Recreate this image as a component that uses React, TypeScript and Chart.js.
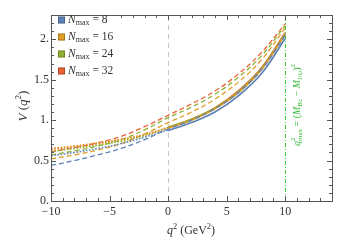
import React, { useEffect, useRef } from "react";
import { Chart, registerables } from "chart.js";

Chart.register(...registerables);

const FONT = '"Liberation Serif", "DejaVu Serif", serif';

const seriesNames = ["8", "16", "24", "32"];
const colors = ["#5e81b5", "#e19c24", "#8fb032", "#eb6235"];

// solid curves, q^2 from 0 to 10
const qSolid = [0, 2, 4, 6, 8, 10];
const solidBlue = [0.87, 0.97, 1.1, 1.3, 1.58, 2.01];
const solidOrange = [0.9, 1.0, 1.14, 1.34, 1.63, 2.06];
const solidGreen = [0.91, 1.01, 1.15, 1.35, 1.64, 2.07];
const solidRed = [0.91, 1.01, 1.15, 1.36, 1.65, 2.08];

// dashed curves, q^2 from -10 to 10
const qDashed = [-10, -8, -6, -4, -2, 0, 2, 4, 6, 8, 10];
const dashedBlue = [0.44, 0.5, 0.57, 0.65, 0.76, 0.89, 1.0, 1.14, 1.34, 1.63, 2.05];
const dashedOrange = [0.52, 0.57, 0.63, 0.71, 0.83, 0.97, 1.1, 1.26, 1.47, 1.75, 2.14];
const dashedGreen = [0.57, 0.62, 0.68, 0.76, 0.88, 1.03, 1.16, 1.32, 1.53, 1.8, 2.17];
const dashedRed = [0.61, 0.66, 0.72, 0.8, 0.92, 1.06, 1.2, 1.36, 1.57, 1.84, 2.19];

// dotted curves, q^2 from -10 to 0
const qDotted = [-10, -8, -6, -4, -2, 0];
const dottedBlue = [0.56, 0.6, 0.65, 0.71, 0.79, 0.88];
const dottedOrange = [0.65, 0.68, 0.72, 0.76, 0.82, 0.9];
const dottedGreen = [0.61, 0.65, 0.69, 0.74, 0.81, 0.91];
const dottedRed = [0.64, 0.67, 0.71, 0.76, 0.82, 0.91];

const xTickValues = [-10, -5, 0, 5, 10];
const xTickLabels = ["\u221210", "\u22125", "0", "5", "10"];
const yTickValues = [0, 0.5, 1, 1.5, 2];
const yTickLabels = ["0.", "0.5", "1.", "1.5", "2."];

const xMin = -10, xMax = 14, yMin = 0, yMax = 2.3;
const qMaxLine = 10;

type Part = { t: string; i?: boolean; pos?: "base" | "sub" | "sup"; stack?: boolean };

function layoutParts(ctx: CanvasRenderingContext2D, parts: Part[], size: number) {
  let x = 0;
  let prevStart = 0;
  const out: { p: Part; x: number; font: string }[] = [];
  for (const p of parts) {
    const fs = p.pos && p.pos !== "base" ? size * 0.7 : size;
    const font = (p.i ? "italic " : "") + fs + "px " + FONT;
    ctx.font = font;
    const w = ctx.measureText(p.t).width;
    const start = p.stack ? prevStart : x;
    out.push({ p, x: start, font });
    x = Math.max(x, start + w);
    prevStart = start;
  }
  return { items: out, width: x };
}

function drawRich(ctx: CanvasRenderingContext2D, parts: Part[], x: number, y: number, size: number, align: "left" | "center", color: string) {
  const { items, width } = layoutParts(ctx, parts, size);
  const x0 = align === "center" ? x - width / 2 : x;
  ctx.fillStyle = color;
  ctx.textBaseline = "middle";
  ctx.textAlign = "left";
  for (const it of items) {
    ctx.font = it.font;
    let dy = 0;
    if (it.p.pos === "sup") dy = -size * 0.38;
    if (it.p.pos === "sub") dy = size * 0.28;
    ctx.fillText(it.p.t, x0 + it.x, y + dy);
  }
}

const decorPlugin = {
  id: "decor",
  beforeDatasetsDraw(chart: any) {
    const { ctx, chartArea, scales } = chart;
    const xs = scales.x;
    ctx.save();
    const x0 = Math.round(xs.getPixelForValue(0)) + 0.5;
    ctx.strokeStyle = "#c8c8c8";
    ctx.lineWidth = 1;
    ctx.setLineDash([5, 4]);
    ctx.beginPath();
    ctx.moveTo(x0, chartArea.bottom);
    ctx.lineTo(x0, chartArea.top);
    ctx.stroke();
    const x10 = Math.round(xs.getPixelForValue(qMaxLine)) + 0.5;
    ctx.strokeStyle = "#33cc33";
    ctx.setLineDash([4, 2, 1, 2]);
    ctx.beginPath();
    ctx.moveTo(x10, chartArea.bottom);
    ctx.lineTo(x10, chartArea.top);
    ctx.stroke();
    ctx.restore();
  },
  afterDraw(chart: any) {
    const { ctx, chartArea, scales } = chart;
    const xs = scales.x, ys = scales.y;
    const { left, right, top, bottom } = chartArea;
    ctx.save();
    ctx.setLineDash([]);
    ctx.strokeStyle = "#555";
    ctx.lineWidth = 1;
    ctx.beginPath();
    for (let v = xMin; v <= xMax; v += 1) {
      const px = Math.round(xs.getPixelForValue(v)) + 0.5;
      const len = v % 5 === 0 ? 5 : 3;
      ctx.moveTo(px, bottom);
      ctx.lineTo(px, bottom - len);
      ctx.moveTo(px, top);
      ctx.lineTo(px, top + len);
    }
    for (let k = 0; k <= 23; k++) {
      const v = k / 10;
      const py = Math.round(ys.getPixelForValue(v)) + 0.5;
      const len = k % 5 === 0 ? 5 : 3;
      ctx.moveTo(left, py);
      ctx.lineTo(left + len, py);
      ctx.moveTo(right, py);
      ctx.lineTo(right - len, py);
    }
    ctx.stroke();

    // legend box (white) covering top ticks
    ctx.fillStyle = "#fff";
    ctx.fillRect(57.5, Math.round(top) + 1, 58, 64);

    ctx.strokeStyle = "#555";
    ctx.strokeRect(Math.round(left) + 0.5, Math.round(top) + 0.5, Math.round(right - left), Math.round(bottom - top));

    for (let i = 0; i < seriesNames.length; i++) {
      const cy = 20 + i * 17;
      ctx.fillStyle = colors[i];
      ctx.fillRect(58, cy - 3.5, 7, 7);
      ctx.strokeStyle = "rgba(0,0,0,0.25)";
      ctx.strokeRect(58.5, cy - 3, 6, 6);
      drawRich(
        ctx,
        [
          { t: "N", i: true },
          { t: "max", pos: "sub" },
          { t: " = " + seriesNames[i] },
        ],
        68,
        cy,
        11.5,
        "left",
        "#333"
      );
    }

    drawRich(
      ctx,
      [
        { t: "q", i: true },
        { t: "2", pos: "sup" },
        { t: " (GeV" },
        { t: "2", pos: "sup" },
        { t: ")" },
      ],
      191,
      231,
      12,
      "center",
      "#333"
    );
    ctx.save();
    ctx.translate(24, 106);
    ctx.rotate(-Math.PI / 2);
    drawRich(
      ctx,
      [
        { t: "V", i: true },
        { t: " (" },
        { t: "q", i: true },
        { t: "2", pos: "sup" },
        { t: ")" },
      ],
      0,
      0,
      13,
      "center",
      "#333"
    );
    ctx.restore();

    ctx.save();
    ctx.translate(297, 105);
    ctx.rotate(-Math.PI / 2);
    drawRich(
      ctx,
      [
        { t: "q", i: true },
        { t: "2", pos: "sup" },
        { t: "max", pos: "sub", stack: true },
        { t: " = (" },
        { t: "M", i: true },
        { t: "B", pos: "sub" },
        { t: "c", pos: "sub" },
        { t: " \u2212 " },
        { t: "M", i: true },
        { t: "J/\u03c8", pos: "sub" },
        { t: ")" },
        { t: "2", pos: "sup" },
      ],
      0,
      0,
      10,
      "center",
      "#33bb33"
    );
    ctx.restore();
    ctx.restore();
  },
};

function mk(q: number[], v: number[]) {
  return q.map((x, i) => ({ x, y: v[i] }));
}

export default function App() {
  const ref = useRef<HTMLCanvasElement>(null);
  useEffect(() => {
    if (!ref.current) return;
    const solid = [solidBlue, solidOrange, solidGreen, solidRed];
    const dashed = [dashedBlue, dashedOrange, dashedGreen, dashedRed];
    const dotted = [dottedBlue, dottedOrange, dottedGreen, dottedRed];
    const datasets: any[] = [];
    for (let i = 0; i < 4; i++) {
      datasets.push({
        label: "N_max = " + seriesNames[i] + " dotted",
        data: mk(qDotted, dotted[i]),
        borderColor: colors[i],
        borderWidth: 1.6,
        borderDash: [1.6, 1.6],
        pointRadius: 0,
        tension: 0.4,
        fill: false,
      });
    }
    for (let i = 0; i < 4; i++) {
      datasets.push({
        label: "N_max = " + seriesNames[i] + " dashed",
        data: mk(qDashed, dashed[i]),
        borderColor: colors[i],
        borderWidth: 1.3,
        borderDash: [5, 3],
        pointRadius: 0,
        tension: 0.4,
        fill: false,
      });
    }
    for (let i = 0; i < 4; i++) {
      datasets.push({
        label: "N_max = " + seriesNames[i],
        data: mk(qSolid, solid[i]),
        borderColor: colors[i],
        borderWidth: 1.7,
        pointRadius: 0,
        tension: 0.4,
        fill: false,
      });
    }
    const chart = new Chart(ref.current, {
      type: "line",
      data: { datasets },
      plugins: [decorPlugin],
      options: {
        animation: false,
        responsive: false,
        layout: { padding: { top: 15, right: 7, left: 0, bottom: 0 } },
        plugins: { legend: { display: false }, tooltip: { enabled: false } },
        scales: {
          x: {
            type: "linear",
            min: xMin,
            max: xMax,
            grid: { display: false, drawTicks: false },
            border: { display: false },
            afterBuildTicks: (s: any) => {
              s.ticks = xTickValues.map((v) => ({ value: v }));
            },
            afterFit: (s: any) => {
              s.height = 41;
            },
            ticks: {
              padding: 4,
              color: "#333",
              font: { family: FONT, size: 12 },
              maxRotation: 0,
              autoSkip: false,
              callback: (v: any) => xTickLabels[xTickValues.indexOf(Number(v))] ?? "",
            },
          },
          y: {
            type: "linear",
            min: yMin,
            max: yMax,
            grid: { display: false, drawTicks: false },
            border: { display: false },
            afterBuildTicks: (s: any) => {
              s.ticks = yTickValues.map((v) => ({ value: v }));
            },
            afterFit: (s: any) => {
              s.width = 51;
            },
            ticks: {
              padding: 2,
              color: "#333",
              font: { family: FONT, size: 12 },
              autoSkip: false,
              callback: (v: any) => yTickLabels[yTickValues.indexOf(Number(v))] ?? "",
            },
          },
        },
      },
    });
    return () => chart.destroy();
  }, []);
  return (
    <div style={{ position: "absolute", left: 0, top: 0, width: 339, height: 242, background: "#fff" }}>
      <canvas ref={ref} width={339} height={242} style={{ width: 339, height: 242 }} />
    </div>
  );
}
